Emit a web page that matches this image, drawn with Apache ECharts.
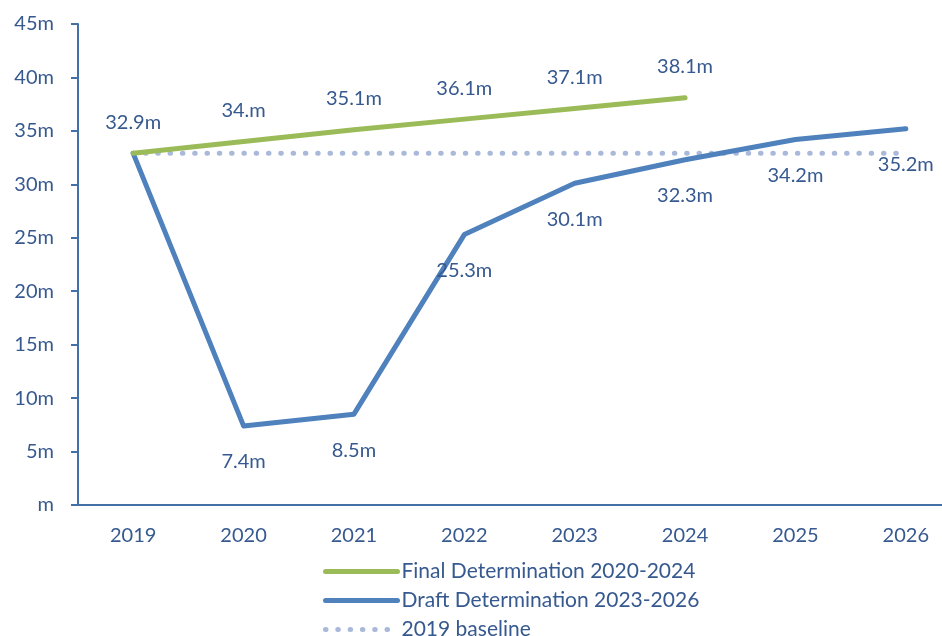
<!DOCTYPE html>
<html>
<head>
<meta charset="utf-8">
<script src="https://cdn.jsdelivr.net/npm/echarts@6/dist/echarts.min.js"></script>
<style>
  html, body { margin: 0; padding: 0; background: #fff; }
  #chart { width: 942px; height: 636px; }
</style>
</head>
<body>
<div id="chart"></div>
<script>
// Regulated revenue per year (millions)
const years = ['2019', '2020', '2021', '2022', '2023', '2024', '2025', '2026'];
const finalDetermination = [32.9, 34.0, 35.1, 36.1, 37.1, 38.1, null, null];
const draftDetermination = [32.9, 7.4, 8.5, 25.3, 30.1, 32.3, 34.2, 35.2];
const baseline2019 = [32.9, 32.9, 32.9, 32.9, 32.9, 32.9, 32.9, 32.9];
const finalLabels = ['32.9m', '34.m', '35.1m', '36.1m', '37.1m', '38.1m', '', ''];
const draftLabels = ['', '7.4m', '8.5m', '25.3m', '30.1m', '32.3m', '34.2m', '35.2m'];

const TEXT = '#36598f';
const AXIS = '#4470a8';
const FONT = 'Lato';
const FS = 20;

const chart = echarts.init(document.getElementById('chart'));
chart.setOption({
  animation: false,
  textStyle: { fontFamily: FONT, color: TEXT },
  grid: { left: 78, width: 883, top: 24, bottom: 131, outerBoundsMode: 'none', containLabel: false },
  xAxis: {
    type: 'category',
    data: years,
    boundaryGap: true,
    axisLine: { lineStyle: { color: AXIS, width: 2 } },
    axisTick: { show: false },
    axisLabel: { color: TEXT, fontSize: FS, fontFamily: FONT, margin: 21 }
  },
  yAxis: {
    type: 'value',
    min: 0, max: 45, interval: 5,
    splitLine: { show: false },
    axisLine: { show: true, lineStyle: { color: AXIS, width: 2 } },
    axisTick: { show: true, length: 7, lineStyle: { color: AXIS, width: 2 } },
    axisLabel: {
      color: TEXT, fontSize: FS, fontFamily: FONT, margin: 24,
      formatter: v => (v === 0 ? 'm' : v + 'm')
    }
  },
  legend: {
    orient: 'vertical',
    left: 323, top: 561, height: 100,
    padding: 0,
    itemWidth: 72, itemHeight: 12, itemGap: 8,
    itemStyle: { opacity: 0 },
    lineStyle: { width: 'inherit', type: 'inherit', cap: 'round' },
    textStyle: { color: TEXT, fontSize: 21, fontFamily: FONT, lineHeight: 20, padding: [0, 0, 0, -1] },
    data: ['Final Determination 2020-2024', 'Draft Determination 2023-2026', '2019 baseline']
  },
  series: [
    {
      name: '2019 baseline',
      type: 'line',
      data: baseline2019,
      symbol: 'none',
      z: 1,
      lineStyle: { color: '#aab8d9', width: 5, type: [0.5, 11.8], cap: 'round' },
      itemStyle: { color: '#aab8d9' }
    },
    {
      name: 'Final Determination 2020-2024',
      type: 'line',
      data: finalDetermination,
      symbol: 'circle', symbolSize: 4, showSymbol: true,
      z: 3,
      lineStyle: { color: '#9bbb59', width: 5, cap: 'round', join: 'round' },
      itemStyle: { color: '#9bbb59' },
      label: {
        show: true, position: 'top', distance: 19,
        color: TEXT, fontSize: FS, fontFamily: FONT,
        formatter: p => finalLabels[p.dataIndex]
      }
    },
    {
      name: 'Draft Determination 2023-2026',
      type: 'line',
      data: draftDetermination,
      symbol: 'circle', symbolSize: 4, showSymbol: true,
      z: 2,
      lineStyle: { color: '#4f81bd', width: 5, cap: 'round', join: 'round' },
      itemStyle: { color: '#4f81bd' },
      label: {
        show: true, position: 'bottom', distance: 24,
        color: TEXT, fontSize: FS, fontFamily: FONT,
        formatter: p => draftLabels[p.dataIndex]
      }
    }
  ]
});
</script>
</body>
</html>
